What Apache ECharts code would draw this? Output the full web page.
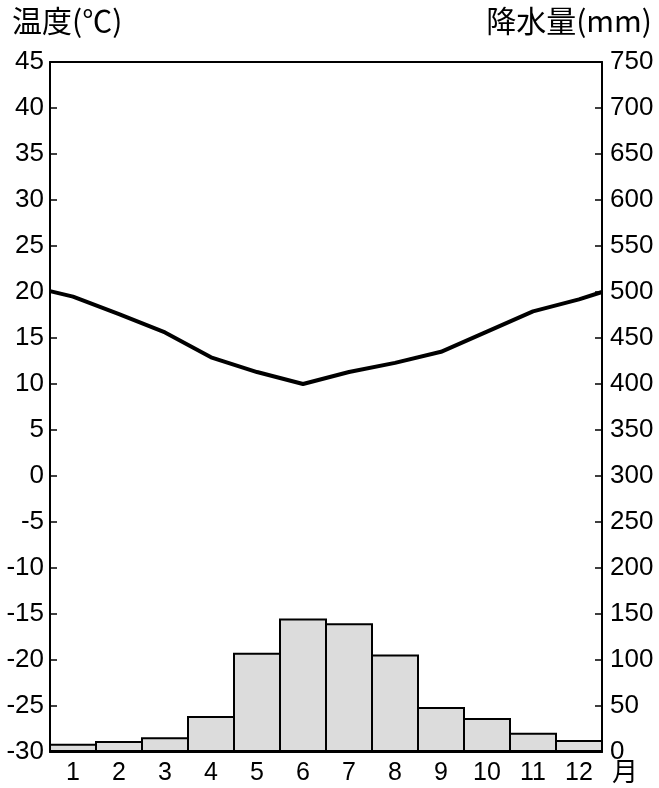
<!DOCTYPE html>
<html>
<head>
<meta charset="utf-8">
<script src="https://cdn.jsdelivr.net/npm/echarts@6/dist/echarts.min.js"></script>
<style>html,body{margin:0;padding:0;background:#fff}#c{width:659px;height:788px}</style>
</head>
<body>
<div id="c"></div>
<script>
var months = ['1','2','3','4','5','6','7','8','9','10','11','12'];
var precipitation = [9, 12, 16, 39, 108, 145, 140, 106, 49, 37, 21, 13];
var tempMonths = [0.5, 1, 2, 3, 4, 5, 6, 7, 8, 9, 10, 11, 12, 12.5];
var temperature = [20.1, 19.5, 17.6, 15.6, 12.9, 11.3, 10.0, 11.3, 12.3, 13.5, 15.7, 17.9, 19.2, 20.0];
var tempTitle = '温度(℃)';
var precTitle = '降水量(mm)';
var monthUnit = '月';

var CJK = '"Noto Sans CJK JP", "Noto Sans", sans-serif';
var NUM = '"Liberation Sans", Arial, sans-serif';
var chart = echarts.init(document.getElementById('c'));
var lineData = tempMonths.map(function (m, i) { return [m, temperature[i]]; });
chart.setOption({
  animation: false,
  textStyle: { fontFamily: NUM, color: '#000' },
  title: [
    { text: tempTitle, left: 7, top: 1, textStyle: { fontFamily: CJK, fontSize: 30, fontWeight: 'normal', color: '#000' } },
    { text: precTitle, right: 2, top: 1, textStyle: { fontFamily: CJK, fontSize: 30, fontWeight: 'normal', color: '#000' } }
  ],
  grid: { left: 50, right: 57, top: 62, bottom: 36, containLabel: false, outerBoundsMode: 'none' },
  xAxis: [
    {
      type: 'category', data: months, position: 'bottom',
      axisLine: { onZero: false, lineStyle: { color: '#000', width: 2 } },
      axisTick: { show: false },
      axisLabel: { color: '#000', fontSize: 25, fontFamily: NUM, margin: 9 },
      name: monthUnit, nameLocation: 'end', nameGap: 10, nameMoveOverlap: false,
      nameTextStyle: { color: '#000', fontSize: 26, fontFamily: CJK, align: 'left', verticalAlign: 'top', padding: [6, 0, 0, 0] }
    },
    {
      type: 'value', min: 0.5, max: 12.5, position: 'top',
      axisLine: { show: true, onZero: false, lineStyle: { color: '#000', width: 2 } },
      axisTick: { show: false }, axisLabel: { show: false }, splitLine: { show: false }
    }
  ],
  yAxis: [
    {
      type: 'value', min: -30, max: 45, interval: 5, position: 'left',
      axisLine: { show: true, onZero: false, lineStyle: { color: '#000', width: 2 } },
      axisTick: { show: true, inside: true, length: 7, lineStyle: { color: '#000', width: 1.5 } },
      axisLabel: { color: '#000', fontSize: 26, fontFamily: NUM, margin: 6 },
      splitLine: { show: false }
    },
    {
      type: 'value', min: 0, max: 750, interval: 50, position: 'right',
      axisLine: { show: true, onZero: false, lineStyle: { color: '#000', width: 2 } },
      axisTick: { show: true, inside: true, length: 7, lineStyle: { color: '#000', width: 1.5 } },
      axisLabel: { color: '#000', fontSize: 26, fontFamily: NUM, margin: 8 },
      splitLine: { show: false }
    }
  ],
  series: [
    {
      type: 'bar', data: precipitation, xAxisIndex: 0, yAxisIndex: 1,
      barWidth: 48, barCategoryGap: '0%',
      itemStyle: { color: '#dcdcdc', borderColor: '#000', borderWidth: 2 }
    },
    {
      type: 'line', data: lineData, xAxisIndex: 1, yAxisIndex: 0,
      symbol: 'none', smooth: false,
      lineStyle: { color: '#000', width: 4 }
    }
  ]
});
</script>
</body>
</html>
